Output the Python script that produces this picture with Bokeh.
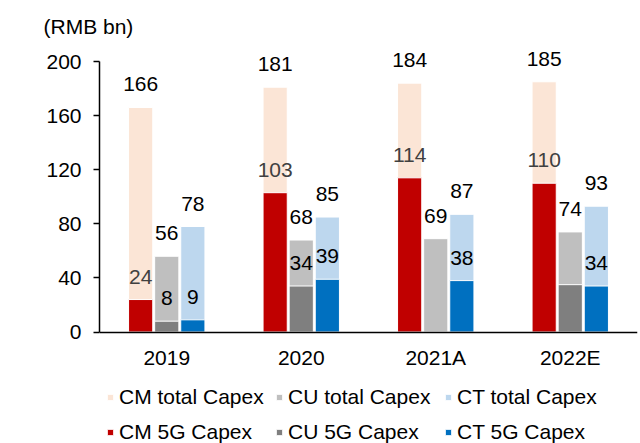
from bokeh.plotting import figure
from bokeh.models import (ColumnDataSource, Range1d, Legend, LegendItem, LabelSet, FixedTicker)
from bokeh.core.properties import value
from bokeh.transform import dodge
from bokeh.embed import file_html
from bokeh.resources import INLINE

years = ["2019", "2020", "2021A", "2022E"]
cm_total = [166, 181, 184, 185]
cm_5g = [24, 103, 114, 110]
cu_total = [56, 68, 69, 74]
cu_5g = [8, 34, float("nan"), 35]
cu_5g_label_shown = [True, True, False, False]
ct_total = [78, 85, 87, 93]
ct_5g = [9, 39, 38, 34]
y_ticks = [0, 40, 80, 120, 160, 200]

FONT = "Liberation Sans"
FS = "21px"

C_CM_T, C_CM_5 = "#FBE5D6", "#C00000"
C_CU_T, C_CU_5 = "#BFBFBF", "#7F7F7F"
C_CT_T, C_CT_5 = "#BDD7EE", "#0070C0"

# layout (pixels)
W_PX, H_PX = 640, 443
FRAME_TOP = 40          # page px
Y200_PX, Y0_PX = 61, 331.5
PX_PER_UNIT = (Y0_PX - Y200_PX) / 200.0
y_lo = -(H_PX - Y0_PX) / PX_PER_UNIT
y_hi = 200 + (Y200_PX - FRAME_TOP) / PX_PER_UNIT

src = ColumnDataSource(dict(year=years, cm_total=cm_total, cm_5g=cm_5g,
                            cu_total=cu_total, cu_5g=cu_5g,
                            ct_total=ct_total, ct_5g=ct_5g))

p = figure(x_range=years, y_range=Range1d(y_lo, y_hi), width=W_PX, height=H_PX,
           output_backend="svg", toolbar_location=None,
           min_border_left=99, min_border_right=3, min_border_top=FRAME_TOP,
           min_border_bottom=0)
p.outline_line_color = None
p.xgrid.grid_line_color = None
p.ygrid.grid_line_color = None

OFF = 0.194
W = 0.18

def bars(col, off, color):
    return p.vbar(x=dodge("year", off, range=p.x_range), top=col, width=W, source=src,
                  fill_color=color, line_color="white", line_width=1)

r_cm_t = bars("cm_total", -OFF, C_CM_T)
r_cu_t = bars("cu_total", 0, C_CU_T)
r_ct_t = bars("ct_total", OFF, C_CT_T)
r_cm_5 = bars("cm_5g", -OFF, C_CM_5)
r_cu_5 = bars("cu_5g", 0, C_CU_5)
r_ct_5 = bars("ct_5g", OFF, C_CT_5)

def labels(xs, vals, off, color):
    s = ColumnDataSource(dict(year=xs, v=vals, t=[str(int(v)) for v in vals]))
    ls = LabelSet(x=dodge("year", off, range=p.x_range), y="v", text="t", source=s,
                  text_align="center", text_baseline="middle", y_offset=23,
                  text_font=value(FONT), text_font_size=value(FS), text_color=color)
    p.add_layout(ls)

labels(years, cm_total, -OFF, "#000000")
labels(years, cu_total, 0, "#000000")
labels(years, ct_total, OFF, "#000000")
labels(years, cm_5g, -OFF, "#404040")
labels([y for y, s in zip(years, cu_5g_label_shown) if s],
       [v for v, s in zip(cu_5g, cu_5g_label_shown) if s], 0, "#000000")
labels(years, ct_5g, OFF, "#000000")

# axes
for ax in (p.xaxis, p.yaxis):
    ax.axis_line_color = "black"
    ax.axis_line_width = 1.5
    ax.major_label_text_font = FONT
    ax.major_label_text_font_size = FS
    ax.major_label_text_color = "black"
    ax.minor_tick_line_color = None
p.yaxis.ticker = FixedTicker(ticks=y_ticks)
p.yaxis.bounds = (0, 200)
p.yaxis.major_tick_out = 6
p.yaxis.major_tick_in = 0
p.yaxis.major_tick_line_color = "black"
p.yaxis.major_tick_line_width = 1.5
p.yaxis.major_label_standoff = 12
p.xaxis.fixed_location = 0
p.xaxis.major_tick_line_color = None
p.xaxis.major_tick_out = 0
p.xaxis.major_tick_in = 0
p.xaxis.major_label_standoff = 14

p.title.text = "(RMB bn)"
p.title.text_font = FONT
p.title.text_font_size = FS
p.title.text_font_style = "normal"
p.title.text_color = "black"
p.title.align = "left"
p.title.offset = -56
p.title.standoff = 6

def legend(items, y):
    lg = Legend(items=items, orientation="horizontal", location=(7, y),
                glyph_width=8, glyph_height=8, label_standoff=5, spacing=10,
                label_width=146, label_height=22, padding=0, margin=0,
                border_line_color=None, background_fill_alpha=0,
                label_text_font=FONT, label_text_font_size=FS, label_text_color="black")
    p.add_layout(lg)

legend([LegendItem(label="CM total Capex", renderers=[r_cm_t]),
        LegendItem(label="CU total Capex", renderers=[r_cu_t]),
        LegendItem(label="CT total Capex", renderers=[r_ct_t])], 34)
legend([LegendItem(label="CM 5G Capex", renderers=[r_cm_5]),
        LegendItem(label="CU 5G Capex", renderers=[r_cu_5]),
        LegendItem(label="CT 5G Capex", renderers=[r_ct_5])], -1)

open("out.html", "w").write(file_html(p, INLINE))
